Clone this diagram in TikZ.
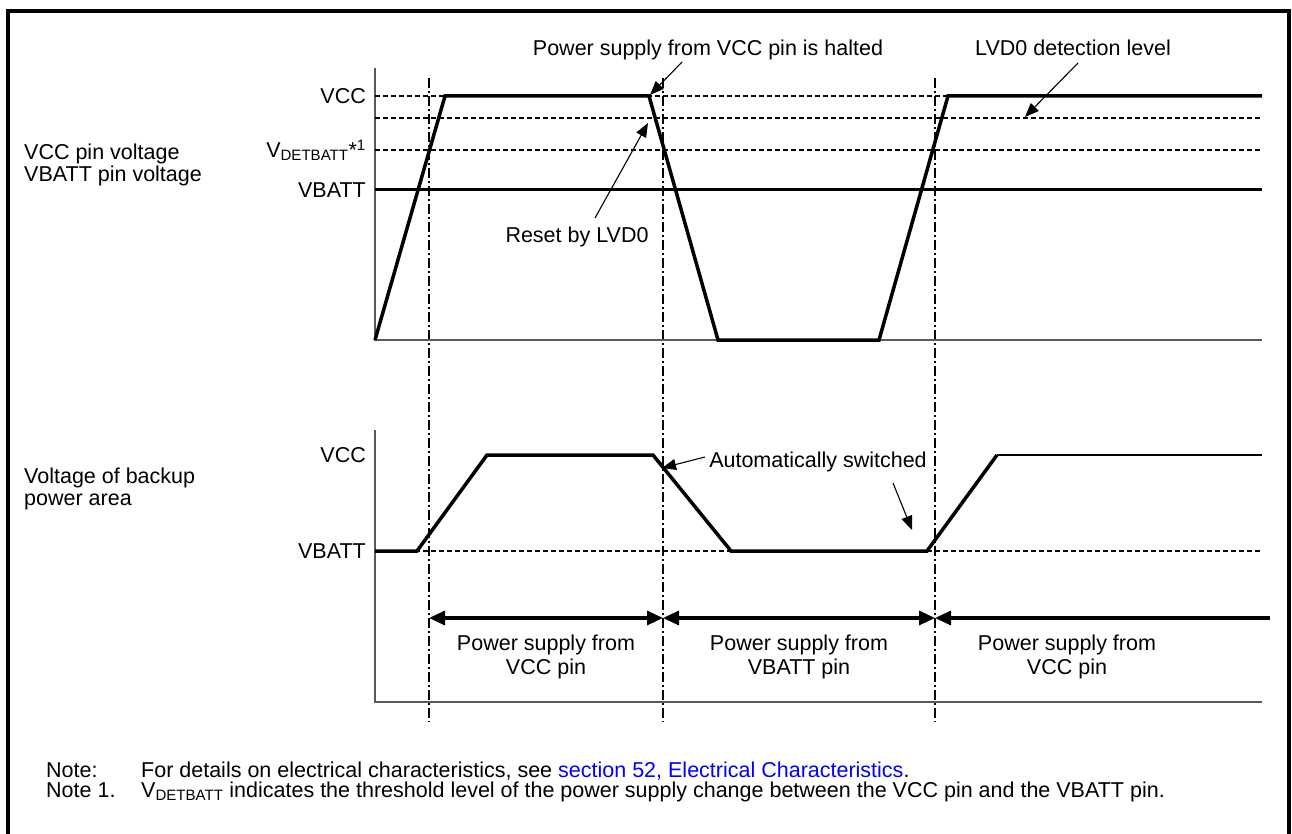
\documentclass[tikz,border=0pt]{standalone}
\usepackage{fontspec}
\setmainfont{Liberation Sans}
\usetikzlibrary{arrows.meta}
\definecolor{linkblue}{RGB}{0,0,255}
\begin{document}
\begin{tikzpicture}[x=1pt,y=-1pt,
  every node/.style={font=\fontsize{21.5}{23}\selectfont, inner sep=0pt},
  wave/.style={line width=3.5pt, line join=miter},
  lvl/.style={line width=2pt, dash pattern=on 5pt off 3pt},
  axis/.style={line width=1.3pt, black!65},
  ddot/.style={line width=2pt, dash pattern=on 10pt off 3pt on 2pt off 3pt},
  ptr/.style={line width=1.1pt, -{Triangle[length=14pt,width=11pt]}},
  spanarrow/.style={line width=3.2pt, {Triangle[length=16pt,width=14pt]}-{Triangle[length=16pt,width=14pt]}},
  halfspan/.style={line width=3.2pt, {Triangle[length=16pt,width=14pt]}-},
  lbl/.style={anchor=base east},
  side/.style={anchor=base west, align=left, font=\fontsize{21.5}{22}\selectfont},
  spantext/.style={anchor=base, align=center, font=\fontsize{21.5}{24}\selectfont}
]
\useasboundingbox (0,0) rectangle (1292,834);
% frame
\draw[line width=3.5pt] (8,850) -- (8,11) -- (1289,11) -- (1289,850);

% ---------- dash-dot time markers ----------
\coordinate (m1t) at (429,78);  \coordinate (m1b) at (429,722);
\coordinate (m2t) at (663,78);  \coordinate (m2b) at (663,722);
\coordinate (m3t) at (935,78);  \coordinate (m3b) at (935,722);
\draw[ddot] (m1t) -- (m1b);
\draw[ddot] (m2t) -- (m2b);
\draw[ddot] (m3t) -- (m3b);

% ---------- upper chart ----------
\coordinate (ua) at (375,68);
\coordinate (uo) at (375,340);
\coordinate (ux) at (1262,340);
\draw[axis] (ua) -- (uo) -- (ux);
\draw[lvl] (375,96) -- (1262,96);
\draw[lvl] (375,118) -- (1262,118);
\draw[lvl] (375,150) -- (1262,150);
\draw[line width=3pt] (375,190) -- (1262,190);
\draw[wave] (375,340) -- (445,96) -- (649,96) -- (718,340) -- (879,340) -- (948,96) -- (1262,96);

\node[lbl] (uvcc) at (366,103.7) {VCC};
\node[lbl] (uvdet) at (366,157.7) {V\textsubscript{DETBATT}*\textsuperscript{1}};
\node[lbl] (uvbatt) at (366,197.7) {VBATT};
\node[side] (ulab) at (24,182) {VCC pin voltage\\VBATT pin voltage};

\node[anchor=base] (halt) at (708,56) {Power supply from VCC pin is halted};
\coordinate (haltS) at (682,62);
\coordinate (haltT) at (650,95);
\draw[ptr] (haltS) -- (haltT);

\node[anchor=base] (lvd) at (1073,56) {LVD0 detection level};
\coordinate (lvdS) at (1078,63);
\coordinate (lvdT) at (1025,117);
\draw[ptr] (lvdS) -- (lvdT);

\node[anchor=base] (reset) at (577,243) {Reset by LVD0};
\coordinate (resetS) at (595,218);
\coordinate (resetT) at (648,123);
\draw[ptr] (resetS) -- (resetT);

% ---------- lower chart ----------
\coordinate (la) at (375,430);
\coordinate (lo) at (375,702);
\coordinate (lx) at (1262,702);
\draw[axis] (la) -- (lo) -- (lx);
\draw[lvl] (375,551) -- (1262,551);
\draw[wave] (375,551) -- (417,551) -- (487,455) -- (653,455) -- (731,551) -- (927,551) -- (997,455);
\draw[line width=2.2pt] (997,455) -- (1262,455);

\node[lbl] (lvcc) at (366,462.7) {VCC};
\node[lbl] (lvbatt) at (366,558.7) {VBATT};
\node[side] (llab) at (24,505) {Voltage of backup\\power area};

\node[anchor=base] (auto) at (818,467) {Automatically switched};
\coordinate (autoS1) at (705,457);
\coordinate (autoT1) at (662,468);
\draw[ptr] (autoS1) -- (autoT1);
\coordinate (autoS2) at (893,483);
\coordinate (autoT2) at (912,530);
\draw[ptr] (autoS2) -- (autoT2);

% ---------- supply periods ----------
\coordinate (s1) at (429,618);
\coordinate (s2) at (663,618);
\coordinate (s3) at (935,618);
\coordinate (s4) at (1270,618);
\draw[spanarrow] (s1) -- (s2);
\draw[spanarrow] (s2) -- (s3);
\draw[halfspan] (s3) -- (s4);
\node[spantext] (p1) at (546,674) {Power supply from\\VCC pin};
\node[spantext] (p2) at (799,674) {Power supply from\\VBATT pin};
\node[spantext] (p3) at (1067,674) {Power supply from\\VCC pin};

% ---------- notes ----------
\node[anchor=base west] (n0) at (46,777) {Note:};
\node[anchor=base west] (n0t) at (141,777) {For details on electrical characteristics, see \textcolor{linkblue}{section 52, Electrical Characteristics}.};
\node[anchor=base west] (n1) at (46,797) {Note 1.};
\node[anchor=base west] (n1t) at (141,797) {V\textsubscript{DETBATT} indicates the threshold level of the power supply change between the VCC pin and the VBATT pin.};
\end{tikzpicture}
\end{document}
